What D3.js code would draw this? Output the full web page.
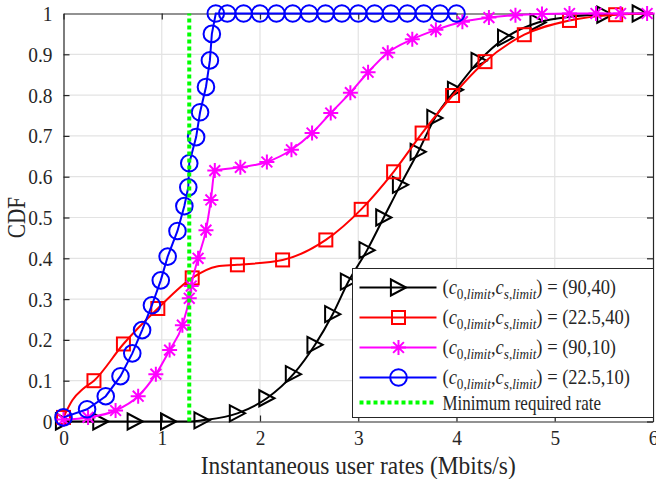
<!DOCTYPE html>
<html>
<head>
<meta charset="utf-8">
<style>
  body { margin: 0; background: #fff; }
  text { font-family: "Liberation Serif", "Times New Roman", serif; fill: #262626; }
</style>
</head>
<body>
<svg id="chart"></svg>
<script src="https://cdn.jsdelivr.net/npm/d3@7"></script>
<script>

// ============ Data ============
// (90,40): black, right-pointing triangles
var blackLineX = [0, 0.38, 0.73, 1.07, 1.30, 1.41, 1.77, 2.07, 2.34, 2.56, 2.74, 2.90, 3.09, 3.26, 3.43, 3.61, 3.78, 3.99, 4.23, 4.50, 4.83, 5.15, 5.51, 5.87, 6.0];
var blackLineY = [0, 0, 0, 0, 0, 0.003, 0.02, 0.057, 0.116, 0.188, 0.263, 0.343, 0.42, 0.50, 0.58, 0.661, 0.744, 0.813, 0.884, 0.941, 0.978, 0.992, 0.997, 1.0, 1.0];
var blackMarkX = [0, 0.38, 0.73, 1.07, 1.41, 1.77, 2.07, 2.34, 2.56, 2.74, 2.90, 3.09, 3.26, 3.43, 3.61, 3.78, 3.99, 4.23, 4.50, 4.83, 5.51, 5.87];
var blackMarkY = [0, 0, 0, 0, 0.003, 0.02, 0.057, 0.116, 0.188, 0.263, 0.343, 0.42, 0.50, 0.58, 0.661, 0.744, 0.813, 0.884, 0.941, 0.978, 0.997, 1.0];

// (22.5,40): red, squares
var redLineX = [0, 0.09, 0.2, 0.31, 0.61, 0.96, 1.31, 1.56, 1.77, 2.23, 2.67, 3.03, 3.36, 3.65, 3.96, 4.29, 4.69, 5.15, 5.62, 6.0];
var redLineY = [0.01, 0.052, 0.08, 0.10, 0.19, 0.277, 0.352, 0.380, 0.384, 0.396, 0.445, 0.52, 0.612, 0.707, 0.799, 0.882, 0.948, 0.983, 0.997, 1.0];
var redMarkX = [0, 0.31, 0.61, 0.96, 1.31, 1.77, 2.23, 2.67, 3.03, 3.36, 3.65, 3.96, 4.29, 4.69, 5.15, 5.62];
var redMarkY = [0.01, 0.10, 0.19, 0.277, 0.352, 0.384, 0.396, 0.445, 0.52, 0.612, 0.707, 0.799, 0.882, 0.948, 0.983, 0.997];

// (90,10): magenta, asterisks
var magMarkX = [0, 0.25, 0.53, 0.76, 0.94, 1.08, 1.21, 1.28, 1.30, 1.37, 1.45, 1.50, 1.54, 1.80, 2.07, 2.32, 2.53, 2.72, 2.92, 3.10, 3.30, 3.55, 3.79, 4.06, 4.33, 4.60, 4.87, 5.15, 5.42, 5.67, 5.94];
var magMarkY = [0.005, 0.01, 0.027, 0.062, 0.116, 0.175, 0.236, 0.302, 0.332, 0.40, 0.469, 0.543, 0.615, 0.623, 0.636, 0.666, 0.707, 0.756, 0.806, 0.856, 0.904, 0.937, 0.96, 0.98, 0.99, 0.996, 0.999, 1.0, 1.0, 1.0, 1.0];
var magLineX = magMarkX.concat([6.0]);
var magLineY = magMarkY.concat([1.0]);

// (22.5,10): blue, circles
var blueMarkX = [0, 0.24, 0.43, 0.58, 0.70, 0.80, 0.90, 0.99, 1.06, 1.16, 1.23, 1.27, 1.28, 1.35, 1.39, 1.45, 1.49, 1.51, 1.55,
                 1.667, 1.833, 2.0, 2.167, 2.333, 2.5, 2.667, 2.833, 3.0, 3.167, 3.333, 3.5, 3.667, 3.833, 4.0];
var blueMarkY = [0.01, 0.03, 0.062, 0.111, 0.167, 0.224, 0.285, 0.346, 0.404, 0.467, 0.528, 0.574, 0.633, 0.697, 0.758, 0.82, 0.885, 0.95, 1.0,
                 1, 1, 1, 1, 1, 1, 1, 1, 1, 1, 1, 1, 1, 1, 1];

var minRate = 1.28;

var legendLabels = ['(90,40)', '(22.5,40)', '(90,10)', '(22.5,10)'];
var xTicks = [0, 1, 2, 3, 4, 5, 6];
var yTicks = [0, 0.1, 0.2, 0.3, 0.4, 0.5, 0.6, 0.7, 0.8, 0.9, 1];

// ============ Layout ============
var W = 656, H = 479;
var margin = {top: 13.5, right: 3, bottom: 57.5, left: 63.5};
var width = W - margin.left - margin.right,
    height = H - margin.top - margin.bottom;

var x = d3.scaleLinear().domain([0, 6]).range([0, width]);
var y = d3.scaleLinear().domain([0, 1]).range([height, 0]);

var svgRoot = d3.select('#chart').attr('width', W).attr('height', H);
var svg = svgRoot.append('g').attr('transform', `translate(${margin.left}, ${margin.top})`);

var AXIS = '#262626';
var GRID = '#e3e3e3';
var SQUEEZE = 0.88;   // the figure's text is a bit narrow for its height

// grid
svg.append('g').selectAll('line').data(xTicks.slice(1, -1)).enter().append('line')
    .attr('x1', d => x(d)).attr('x2', d => x(d)).attr('y1', 0).attr('y2', height)
    .attr('stroke', GRID).attr('stroke-width', 1.2);
svg.append('g').selectAll('line').data(yTicks.slice(1, -1)).enter().append('line')
    .attr('x1', 0).attr('x2', width).attr('y1', d => y(d)).attr('y2', d => y(d))
    .attr('stroke', GRID).attr('stroke-width', 1.2);

// axes (ticks point inward, box on)
var xAxis = d3.axisBottom(x).tickValues(xTicks).tickSizeInner(-6).tickSizeOuter(0).tickPadding(8).tickFormat(d3.format('d'));
var yAxis = d3.axisLeft(y).tickValues(yTicks).tickSizeInner(-6).tickSizeOuter(0).tickPadding(11).tickFormat(d => d === 0 || d === 1 ? d : d.toFixed(1));
var gx = svg.append('g').attr('transform', `translate(0, ${height})`).call(xAxis);
var gy = svg.append('g').call(yAxis);
svg.append('g').call(d3.axisTop(x).tickValues(xTicks).tickSizeInner(-6).tickSizeOuter(0).tickFormat(''));
svg.append('g').attr('transform', `translate(${width}, 0)`)
    .call(d3.axisRight(y).tickValues(yTicks).tickSizeInner(-6).tickSizeOuter(0).tickFormat(''));
svg.selectAll('.domain').attr('stroke', AXIS).attr('stroke-width', 1.2);
svg.selectAll('.tick line').attr('stroke', AXIS).attr('stroke-width', 1.2);
svg.selectAll('.tick text').each(function() {
    var t = d3.select(this);
    var tx = +t.attr('x') || 0, ty = +t.attr('y') || 0;
    t.attr('x', 0).attr('y', 0)
        .attr('transform', `translate(${tx}, ${ty}) scale(${SQUEEZE}, 1)`)
        .attr('font-size', 22).attr('fill', AXIS)
        .style('font-family', '"Liberation Serif", serif');
});
gx.selectAll('.tick').filter(d => d === 0 || d === 6).select('line').remove();
gy.selectAll('.tick').filter(d => d === 0 || d === 1).select('line').remove();

// axis labels
svg.append('text').text('Instantaneous user rates (Mbits/s)')
    .attr('transform', `translate(${width / 2}, ${height + 52}) scale(0.9, 1)`)
    .attr('text-anchor', 'middle').attr('font-size', 26);
svg.append('text').text('CDF')
    .attr('transform', `translate(-38.5, ${height / 2}) rotate(-90) scale(0.85, 1)`)
    .attr('text-anchor', 'middle').attr('font-size', 25);

// ============ Markers ============
function triPath(s) {
    var w = s * 0.95, h = s;
    return `M${-w / 2},${-h / 2}L${w / 2},0L${-w / 2},${h / 2}Z`;
}
function starPath(s) {
    var r = s / 2, d = r * 0.72;
    return `M${-r},0L${r},0M0,${-r}L0,${r}M${-d},${-d}L${d},${d}M${-d},${d}L${d},${-d}`;
}
function drawMarker(g, type, color) {
    if (type === 'tri') {
        g.append('path').attr('d', triPath(16)).attr('fill', 'none').attr('stroke', color).attr('stroke-width', 2);
    } else if (type === 'sq') {
        g.append('rect').attr('x', -6.5).attr('y', -6.5).attr('width', 13).attr('height', 13)
            .attr('fill', 'none').attr('stroke', color).attr('stroke-width', 2);
    } else if (type === 'star') {
        g.append('path').attr('d', starPath(15)).attr('fill', 'none').attr('stroke', color).attr('stroke-width', 2);
    } else if (type === 'circ') {
        g.append('circle').attr('r', 8.3).attr('fill', 'none').attr('stroke', color).attr('stroke-width', 2);
    }
}

var series = [
    {lx: blackLineX, ly: blackLineY, mx: blackMarkX, my: blackMarkY, color: '#000000', marker: 'tri', curve: d3.curveMonotoneX},
    {lx: redLineX, ly: redLineY, mx: redMarkX, my: redMarkY, color: '#ff0000', marker: 'sq', curve: d3.curveMonotoneX},
    {lx: magLineX, ly: magLineY, mx: magMarkX, my: magMarkY, color: '#ff00ff', marker: 'star', curve: d3.curveMonotoneX},
    {lx: blueMarkX, ly: blueMarkY, mx: blueMarkX, my: blueMarkY, color: '#0000ff', marker: 'circ', curve: d3.curveLinear}
];

series.forEach(function(s) {
    var pts = s.lx.map((v, i) => [v, s.ly[i]]);
    var line = d3.line().x(d => x(d[0])).y(d => y(d[1])).curve(s.curve);
    svg.append('path').datum(pts).attr('d', line)
        .attr('fill', 'none').attr('stroke', s.color).attr('stroke-width', 2);
    s.mx.forEach(function(v, i) {
        var g = svg.append('g').attr('transform', `translate(${x(v)}, ${y(s.my[i])})`);
        drawMarker(g, s.marker, s.color);
    });
});

// minimum required rate
svg.append('line')
    .attr('x1', x(minRate)).attr('x2', x(minRate)).attr('y1', y(0)).attr('y2', y(1))
    .attr('stroke', '#00ff00').attr('stroke-width', 4).attr('stroke-dasharray', '4,3');

// ============ Legend ============
var lg = svgRoot.append('g').attr('transform', 'translate(352.5, 268.5)');
lg.append('rect').attr('width', 301).attr('height', 149)
    .attr('fill', '#fff').attr('stroke', AXIS).attr('stroke-width', 1);
var rowY = [19, 49, 79, 109, 134];
series.forEach(function(s, i) {
    var ry = rowY[i];
    lg.append('line').attr('x1', 7).attr('x2', 84).attr('y1', ry).attr('y2', ry)
        .attr('stroke', s.color).attr('stroke-width', 2);
    var g = lg.append('g').attr('transform', `translate(46, ${ry})`);
    drawMarker(g, s.marker, s.color);
    var t = lg.append('text')
        .attr('transform', `translate(90, ${ry + 6}) scale(${SQUEEZE}, 1)`)
        .attr('font-size', 21);
    t.append('tspan').text('(');
    t.append('tspan').attr('font-style', 'italic').text('c');
    t.append('tspan').attr('font-size', 15).attr('dy', 5).text('0,');
    t.append('tspan').attr('font-size', 15).attr('font-style', 'italic').text('limit');
    t.append('tspan').attr('dy', -5).text(',');
    t.append('tspan').attr('font-style', 'italic').text('c');
    t.append('tspan').attr('font-size', 15).attr('font-style', 'italic').attr('dy', 5).text('s,limit');
    t.append('tspan').attr('dy', -5).text(') = ' + legendLabels[i]);
});
lg.append('line').attr('x1', 7).attr('x2', 84).attr('y1', rowY[4]).attr('y2', rowY[4])
    .attr('stroke', '#00ff00').attr('stroke-width', 4).attr('stroke-dasharray', '4,3');
lg.append('text')
    .attr('transform', `translate(90, ${rowY[4] + 7}) scale(0.85, 1)`)
    .attr('font-size', 20).text('Minimum required rate');

</script>
</body>
</html>
